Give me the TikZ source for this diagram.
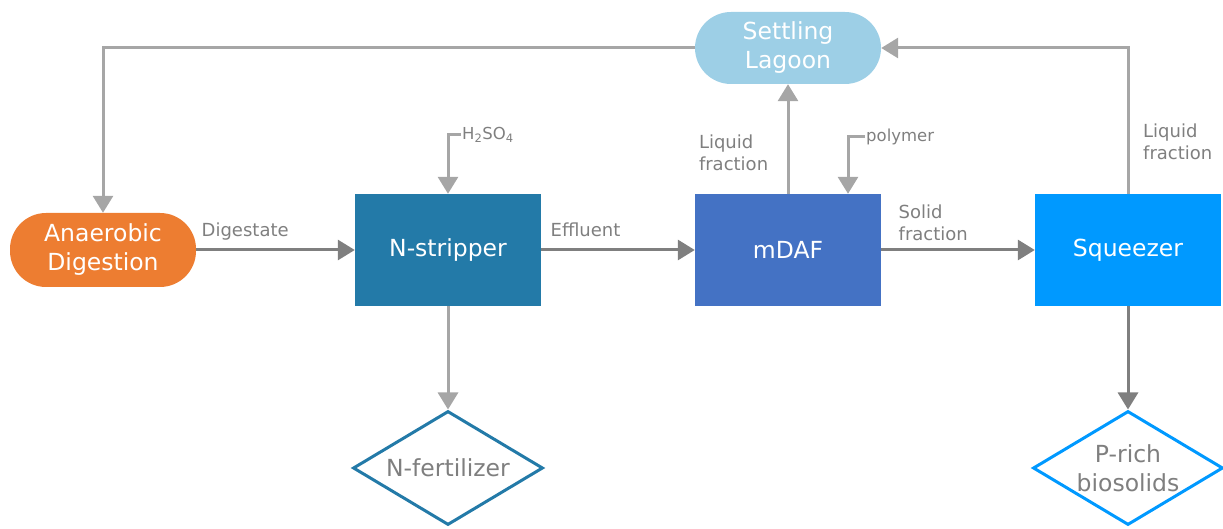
\documentclass[tikz,border=0pt]{standalone}
\usepackage{fontspec}
\setmainfont{DejaVu Sans}
\usetikzlibrary{arrows.meta,shapes.geometric,positioning,calc}
\definecolor{adorange}{HTML}{ED7D31}
\definecolor{stripblue}{HTML}{237AA8}
\definecolor{dafblue}{HTML}{4472C4}
\definecolor{sqzblue}{HTML}{0099FF}
\definecolor{lagoonblue}{HTML}{9DCFE6}
\definecolor{labelgray}{HTML}{7F7F7F}
\definecolor{darkline}{HTML}{7F7F7F}
\definecolor{lightline}{HTML}{A6A6A6}
\tikzset{
    unit/.style = {rectangle, minimum width=186pt, minimum height=112pt, inner sep=0pt, text=white, align=center, font=\fontsize{23.5}{29}\selectfont},
    stadium/.style = {rectangle, rounded corners=36pt, minimum width=186pt, minimum height=74pt, inner sep=0pt, text=white, align=center, font=\fontsize{23.5}{29}\selectfont},
    product/.style = {diamond, aspect=1.67, fill=white, line width=3pt, minimum width=190pt, minimum height=114pt, inner sep=0pt, text=labelgray, align=center, font=\fontsize{23.5}{29}\selectfont},
    lbl/.style = {text=labelgray, inner sep=0pt, text depth=0pt, align=left, font=\fontsize{18}{22}\selectfont},
    lbl-small/.style = {text=labelgray, inner sep=1pt, font=\fontsize{16.5}{20}\selectfont},
    flow/.style = {draw=darkline, line width=3pt, -{Triangle[width=20pt,length=17pt]}},
    feed/.style = {draw=lightline, line width=3pt, -{Triangle[width=20pt,length=17pt]}},
}

\begin{document}
\begin{tikzpicture}[x=1pt, y=-1pt]
\useasboundingbox (0,0) rectangle (1223,529);

% process units
\node [stadium, fill=adorange] (ad) at (103,250) {Anaerobic\\Digestion};
\node [unit, fill=stripblue] (strip) at (448,250) {N-stripper};
\node [unit, fill=dafblue] (mdaf) at (788,250) {mDAF};
\node [unit, fill=sqzblue] (sqz) at (1128,250) {Squeezer};
\node [stadium, fill=lagoonblue, minimum height=72pt] (lagoon) at (788,48) {Settling\\Lagoon};

% products
\node [product, draw=stripblue] (nfert) at (448,468) {N-fertilizer};
\node [product, draw=sqzblue] (prich) at (1128,468) {P-rich\\biosolids};

% chemical inputs
\node [lbl-small, anchor=west] (acid) at ($(strip.north)+(13,-59)$) {H\textsubscript{2}SO\textsubscript{4}};
\node [lbl-small, anchor=west] (poly) at ($(mdaf.north)+(77,-57)$) {polymer};
\coordinate (dafin) at ($(mdaf.north)+(60,0)$);

% main line
\draw [flow] (ad) -- (strip) node [lbl, anchor=south west, pos=0, xshift=4pt, yshift=12pt] {Digestate};
\draw [flow] (strip) -- (mdaf) node [lbl, anchor=south west, pos=0, xshift=8pt, yshift=12pt] {Effluent};
\draw [flow] (mdaf) -- (sqz) node [lbl, anchor=south west, pos=0, xshift=16pt, yshift=8pt] {Solid\\fraction};
\draw [flow] (sqz) -- (prich);
\draw [feed] (strip) -- (nfert);

% liquid fractions and recycle
\draw [feed] (mdaf) -- (lagoon);
\node [lbl, anchor=south west, xshift=4pt, yshift=23pt] at (mdaf.north west) {Liquid\\fraction};
\draw [feed] (sqz.north) |- (lagoon.east);
\node [lbl, anchor=south west, xshift=15pt, yshift=34pt] at (sqz.north) {Liquid\\fraction};
\draw [feed] (lagoon.west) -| (ad.north);

% dosing
\draw [feed] (acid.west) -| (strip.north);
\draw [feed] (poly.west) -| (dafin);
\end{tikzpicture}
\end{document}
